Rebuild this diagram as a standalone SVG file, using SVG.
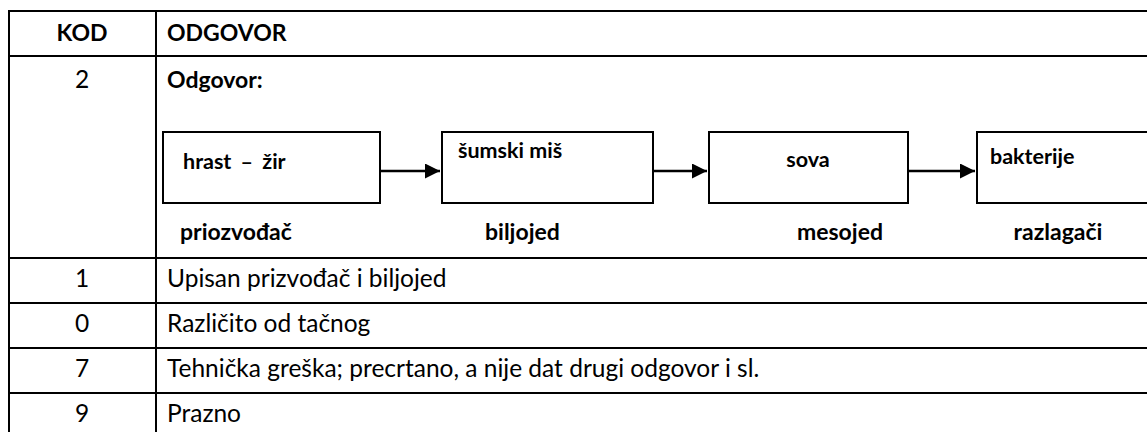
<svg xmlns="http://www.w3.org/2000/svg" width="1147" height="432" viewBox="0 0 1147 432">
<style>
.t{font-family:Lato,"Open Sans","Liberation Sans",sans-serif;font-size:24.5px;fill:#000}
.b{font-weight:bold;font-size:23px}
.c{text-anchor:middle}
.grid{stroke:#000;stroke-width:2;fill:none}
.box{stroke:#000;stroke-width:2;fill:#fff}
.bt{font-size:21.5px}
.conn{stroke:#000;stroke-width:2.5;fill:none}
</style>
<defs>
<marker id="ah" markerWidth="7" markerHeight="6" refX="6" refY="3" orient="auto" markerUnits="strokeWidth">
<path d="M0,0 L6,3 L0,6 Z" fill="#000"/>
</marker>
</defs>
<rect width="1147" height="432" fill="#fff"/>
<g id="table" class="grid">
<line x1="8" y1="11" x2="1147" y2="11"/>
<line x1="8" y1="56" x2="1147" y2="56"/>
<line x1="8" y1="258" x2="1147" y2="258"/>
<line x1="8" y1="303" x2="1147" y2="303"/>
<line x1="8" y1="348" x2="1147" y2="348"/>
<line x1="8" y1="393" x2="1147" y2="393"/>
<line x1="9" y1="10" x2="9" y2="432"/>
<line x1="156" y1="10" x2="156" y2="432"/>
</g>
<g id="texts">
<text class="t b c" x="82" y="41">KOD</text>
<text class="t b" x="167" y="41">ODGOVOR</text>
<text class="t c" x="82" y="88">2</text>
<text class="t b" x="167" y="88">Odgovor:</text>
<text class="t c" x="82" y="287">1</text>
<text class="t" x="167" y="287">Upisan prizvođač i biljojed</text>
<text class="t c" x="82" y="332">0</text>
<text class="t" x="167" y="332">Različito od tačnog</text>
<text class="t c" x="82" y="377">7</text>
<text class="t" x="167" y="377">Tehnička greška; precrtano, a nije dat drugi odgovor i sl.</text>
<text class="t c" x="82" y="422">9</text>
<text class="t" x="167" y="422">Prazno</text>
</g>
<g id="n1">
<rect class="box" x="163" y="132" width="217" height="71"/>
<text class="t b bt" x="183" y="169" word-spacing="4">hrast – žir</text>
<text class="t b" x="180" y="240">priozvođač</text>
</g>
<g id="n2">
<rect class="box" x="442" y="132" width="211" height="71"/>
<text class="t b bt" x="458" y="158">šumski miš</text>
<text class="t b" x="485" y="240">biljojed</text>
</g>
<g id="n3">
<rect class="box" x="709" y="132" width="199" height="71"/>
<text class="t b bt c" x="808" y="167">sova</text>
<text class="t b c" x="840" y="240">mesojed</text>
</g>
<g id="n4">
<rect class="box" x="977" y="132" width="190" height="71"/>
<text class="t b bt" x="990" y="164">bakterije</text>
<text class="t b c" x="1058" y="240">razlagači</text>
</g>
<g id="connectors" class="conn">
<line x1="381" y1="171" x2="440" y2="171" marker-end="url(#ah)"/>
<line x1="654" y1="171" x2="707" y2="171" marker-end="url(#ah)"/>
<line x1="909" y1="171" x2="975" y2="171" marker-end="url(#ah)"/>
</g>
</svg>
